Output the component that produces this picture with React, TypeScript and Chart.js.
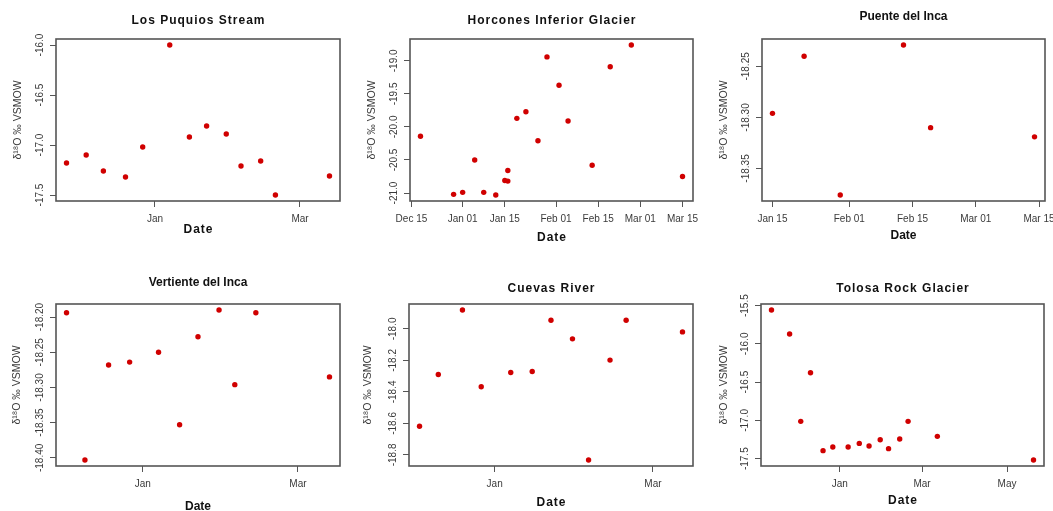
import React, { useEffect, useRef } from "react";
import { Chart, registerables } from "chart.js";
Chart.register(...registerables);

// ---------- data (season 2010-11) ----------
const puquiosDates = ["2010-11-26", "2010-12-04", "2010-12-11", "2010-12-20", "2010-12-27", "2011-01-07", "2011-01-15", "2011-01-22", "2011-01-30", "2011-02-05", "2011-02-13", "2011-02-19", "2011-03-13"];
const puquiosValues = [-17.18, -17.1, -17.26, -17.32, -17.02, -16.0, -16.92, -16.81, -16.89, -17.21, -17.16, -17.5, -17.31];

const horconesDates = ["2010-12-18", "2010-12-29", "2011-01-01", "2011-01-05", "2011-01-08", "2011-01-12", "2011-01-15", "2011-01-16", "2011-01-16", "2011-01-19", "2011-01-22", "2011-01-26", "2011-01-29", "2011-02-02", "2011-02-05", "2011-02-13", "2011-02-19", "2011-02-26", "2011-03-15"];
const horconesValues = [-20.14, -21.02, -20.99, -20.5, -20.99, -21.03, -20.81, -20.82, -20.66, -19.87, -19.77, -20.21, -18.94, -19.37, -19.91, -20.58, -19.09, -18.76, -20.75];

const puenteDates = ["2011-01-15", "2011-01-22", "2011-01-30", "2011-02-13", "2011-02-19", "2011-03-14"];
const puenteValues = [-18.296, -18.24, -18.376, -18.229, -18.31, -18.319];

const vertienteDates = ["2010-12-03", "2010-12-10", "2010-12-19", "2010-12-27", "2011-01-07", "2011-01-15", "2011-01-22", "2011-01-30", "2011-02-05", "2011-02-13", "2011-03-13"];
const vertienteValues = [-18.194, -18.403, -18.268, -18.264, -18.25, -18.353, -18.228, -18.19, -18.296, -18.194, -18.285];

const cuevasDates = ["2010-12-04", "2010-12-11", "2010-12-20", "2010-12-27", "2011-01-07", "2011-01-15", "2011-01-22", "2011-01-30", "2011-02-05", "2011-02-13", "2011-02-19", "2011-03-12"];
const cuevasValues = [-18.618, -18.289, -17.88, -18.367, -18.277, -18.27, -17.945, -18.063, -18.832, -18.198, -17.945, -18.019];

const tolosaDates = ["2010-11-13", "2010-11-26", "2010-12-04", "2010-12-11", "2010-12-20", "2010-12-27", "2011-01-07", "2011-01-15", "2011-01-22", "2011-01-30", "2011-02-05", "2011-02-13", "2011-02-19", "2011-03-12", "2011-05-20"];
const tolosaValues = [-15.557, -15.87, -17.012, -16.376, -17.395, -17.347, -17.347, -17.3, -17.334, -17.252, -17.369, -17.243, -17.012, -17.208, -17.517];

// ---------- tick labels ----------
const monthTickDates = ["2011-01-01", "2011-03-01"];
const monthTickLabels = ["Jan", "Mar"];
const tolosaTickDates = ["2011-01-01", "2011-03-01", "2011-05-01"];
const tolosaTickLabels = ["Jan", "Mar", "May"];
const horconesTickDates = ["2010-12-15", "2011-01-01", "2011-01-15", "2011-02-01", "2011-02-15", "2011-03-01", "2011-03-15"];
const horconesTickLabels = ["Dec 15", "Jan 01", "Jan 15", "Feb 01", "Feb 15", "Mar 01", "Mar 15"];
const puenteTickDates = ["2011-01-15", "2011-02-01", "2011-02-15", "2011-03-01", "2011-03-15"];
const puenteTickLabels = ["Jan 15", "Feb 01", "Feb 15", "Mar 01", "Mar 15"];

const puquiosYTicks = [-16.0, -16.5, -17.0, -17.5];
const horconesYTicks = [-19.0, -19.5, -20.0, -20.5, -21.0];
const puenteYTicks = [-18.25, -18.3, -18.35];
const vertienteYTicks = [-18.2, -18.25, -18.3, -18.35, -18.4];
const cuevasYTicks = [-18.0, -18.2, -18.4, -18.6, -18.8];
const tolosaYTicks = [-15.5, -16.0, -16.5, -17.0, -17.5];

const Y_TITLE = "δ¹⁸O ‰ VSMOW";
const X_TITLE = "Date";

const dayNum = (s: string) => {
  const [y, m, d] = s.split("-").map(Number);
  return (Date.UTC(y, m - 1, d) - Date.UTC(2011, 0, 1)) / 86400000;
};

type Panel = {
  title: string;
  spacing: number;
  cell: [number, number, number, number];
  plot: [number, number, number, number];
  titleY: number;
  dateY: number;
  yTitleX: number;
  dates: string[];
  values: number[];
  xTickDates: string[];
  xTickLabels: string[];
  yTicks: number[];
  decimals: number;
};

const panels: Panel[] = [
  { title: "Los Puquios Stream", spacing: 1, cell: [0, 0, 351, 255], plot: [56, 39, 340, 201], titleY: 21, dateY: 230, yTitleX: 18, dates: puquiosDates, values: puquiosValues, xTickDates: monthTickDates, xTickLabels: monthTickLabels, yTicks: puquiosYTicks, decimals: 1 },
  { title: "Horcones Inferior Glacier", spacing: 1, cell: [351, 0, 351, 255], plot: [410, 39, 693, 201], titleY: 21, dateY: 238, yTitleX: 372, dates: horconesDates, values: horconesValues, xTickDates: horconesTickDates, xTickLabels: horconesTickLabels, yTicks: horconesYTicks, decimals: 1 },
  { title: "Puente del Inca", spacing: 0, cell: [702, 0, 351, 255], plot: [762, 39, 1045, 201], titleY: 17, dateY: 236, yTitleX: 724, dates: puenteDates, values: puenteValues, xTickDates: puenteTickDates, xTickLabels: puenteTickLabels, yTicks: puenteYTicks, decimals: 2 },
  { title: "Vertiente del Inca", spacing: 0, cell: [0, 255, 351, 256], plot: [56, 304, 340, 466], titleY: 283, dateY: 507, yTitleX: 17, dates: vertienteDates, values: vertienteValues, xTickDates: monthTickDates, xTickLabels: monthTickLabels, yTicks: vertienteYTicks, decimals: 2 },
  { title: "Cuevas River", spacing: 1, cell: [351, 255, 351, 256], plot: [409, 304, 693, 466], titleY: 289, dateY: 503, yTitleX: 368, dates: cuevasDates, values: cuevasValues, xTickDates: monthTickDates, xTickLabels: monthTickLabels, yTicks: cuevasYTicks, decimals: 1 },
  { title: "Tolosa Rock Glacier", spacing: 1, cell: [702, 255, 351, 256], plot: [761, 304, 1044, 466], titleY: 289, dateY: 501, yTitleX: 724, dates: tolosaDates, values: tolosaValues, xTickDates: tolosaTickDates, xTickLabels: tolosaTickLabels, yTicks: tolosaYTicks, decimals: 1 },
];

const FONT = "'Liberation Sans', Arial, sans-serif";
const AXIS_COLOR = "#555";
const TEXT_COLOR = "#3a3a3a";
const POINT_COLOR = "#d00000";

const expand = (arr: number[]) => {
  const lo = Math.min(...arr);
  const hi = Math.max(...arr);
  const pad = (hi - lo) * 0.04;
  return [lo - pad, hi + pad];
};

function PanelChart({ p }: { p: Panel }) {
  const ref = useRef<HTMLCanvasElement>(null);
  useEffect(() => {
    const [cx, cy, cw, ch] = p.cell;
    const [pl, pt, pr, pb] = p.plot;
    const xs = p.dates.map(dayNum);
    const [xmin, xmax] = expand(xs);
    const [ymin, ymax] = expand(p.values);
    const xTickVals = p.xTickDates.map(dayNum);

    const decor = {
      id: "decor",
      beforeDatasetsDraw(chart: any) {
        const ctx = chart.ctx;
        const a = chart.chartArea;
        ctx.save();
        ctx.strokeStyle = AXIS_COLOR;
        ctx.lineWidth = 1.6;
        ctx.strokeRect(a.left, a.top, a.right - a.left, a.bottom - a.top);
        ctx.restore();
      },
      afterDraw(chart: any) {
        const ctx = chart.ctx;
        const a = chart.chartArea;
        const xsc = chart.scales.x;
        const ys = chart.scales.y;
        const midX = (a.left + a.right) / 2;
        const midY = (a.top + a.bottom) / 2;
        ctx.save();
        ctx.fillStyle = "#111";
        ctx.textAlign = "center";
        ctx.textBaseline = "middle";
        // title
        ctx.font = `bold 12px ${FONT}`;
        (ctx as any).letterSpacing = `${p.spacing}px`;
        ctx.fillText(p.title, midX + p.spacing / 2, p.titleY - cy);
        // x title
        ctx.fillText(X_TITLE, midX + p.spacing / 2, p.dateY - cy);
        (ctx as any).letterSpacing = "0px";
        // x tick labels
        ctx.fillStyle = TEXT_COLOR;
        ctx.font = `10px ${FONT}`;
        xTickVals.forEach((v, i) => {
          ctx.fillText(p.xTickLabels[i], xsc.getPixelForValue(v), a.bottom + 18);
        });
        // y tick labels, rotated
        p.yTicks.forEach((v) => {
          const y = ys.getPixelForValue(v);
          ctx.save();
          ctx.translate(a.left - 15.5, y);
          ctx.rotate(-Math.PI / 2);
          ctx.fillText(v.toFixed(p.decimals), 0, 0);
          ctx.restore();
        });
        // y title
        ctx.font = `10.5px ${FONT}`;
        ctx.save();
        ctx.translate(p.yTitleX - cx, midY);
        ctx.rotate(-Math.PI / 2);
        ctx.fillText(Y_TITLE, 0, 0);
        ctx.restore();
        ctx.restore();
      },
    };

    const chart = new Chart(ref.current!, {
      type: "scatter",
      data: {
        datasets: [
          {
            data: xs.map((x, i) => ({ x, y: p.values[i] })),
            backgroundColor: POINT_COLOR,
            borderWidth: 0,
            pointRadius: 2.7,
          },
        ],
      },
      options: {
        animation: false,
        responsive: false,
        devicePixelRatio: 1,
        layout: { padding: { left: pl - cx, top: pt - cy, right: cx + cw - pr, bottom: cy + ch - pb } },
        plugins: { legend: { display: false }, tooltip: { enabled: false }, title: { display: false } },
        scales: {
          x: {
            type: "linear",
            min: xmin,
            max: xmax,
            afterBuildTicks: (s: any) => {
              s.ticks = xTickVals.map((v) => ({ value: v }));
            },
            afterFit: (s: any) => {
              s.height = 0;
            },
            ticks: { display: false },
            grid: { drawOnChartArea: false, drawTicks: true, tickLength: 6, color: AXIS_COLOR, lineWidth: 1 },
            border: { display: false },
          },
          y: {
            type: "linear",
            min: ymin,
            max: ymax,
            afterBuildTicks: (s: any) => {
              s.ticks = p.yTicks.map((v) => ({ value: v }));
            },
            afterFit: (s: any) => {
              s.width = 0;
            },
            ticks: { display: false },
            grid: { drawOnChartArea: false, drawTicks: true, tickLength: 6, color: AXIS_COLOR, lineWidth: 1 },
            border: { display: false },
          },
        },
      },
      plugins: [decor],
    } as any);
    return () => chart.destroy();
  }, [p]);
  const [cx, cy, cw, ch] = p.cell;
  return (
    <canvas
      ref={ref}
      width={cw}
      height={ch}
      style={{ position: "absolute", left: cx, top: cy, width: cw, height: ch }}
    />
  );
}

export default function App() {
  return (
    <div style={{ position: "absolute", left: 0, top: 0, width: 1053, height: 511, background: "#fff", overflow: "hidden" }}>
      {panels.map((p) => (
        <PanelChart key={p.title} p={p} />
      ))}
    </div>
  );
}
